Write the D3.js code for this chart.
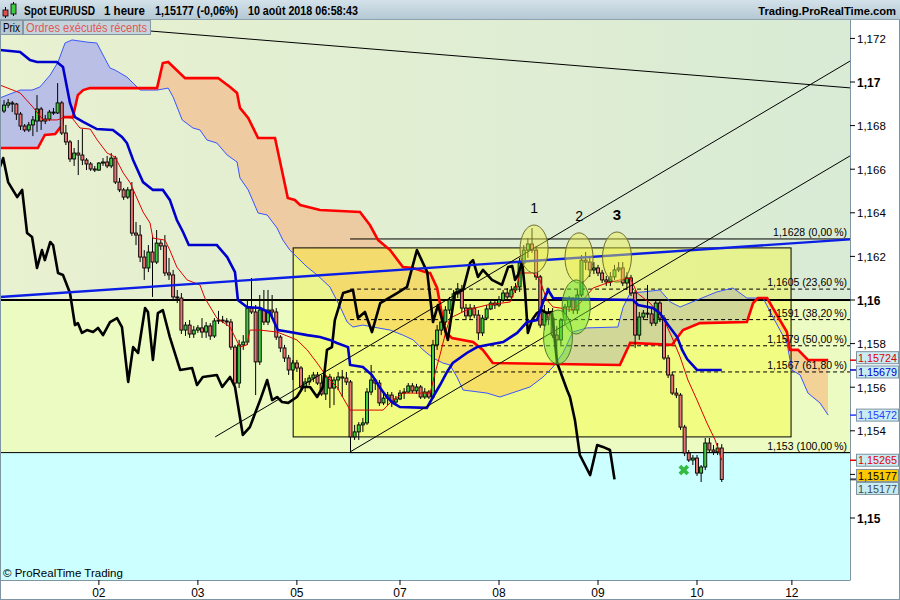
<!DOCTYPE html>
<html>
<head>
<meta charset="utf-8">
<script src="https://d3js.org/d3.v7.min.js"></script>
<style>
  body { margin: 0; background: #fff; }
  svg { display: block; font-family: "Liberation Sans", Arial, sans-serif; }
</style>
</head>
<body>
<script>
// EUR/USD 1h candles, bar index 0..174
var openP = [
  1.16867,1.16894,1.16904,1.16899,1.16853,1.16798,1.16780,1.16803,1.16821,1.16876,
  1.16821,1.16830,1.16862,1.16858,1.16904,1.16766,1.16725,1.16647,1.16674,1.16665,
  1.16642,1.16624,1.16601,1.16596,1.16628,1.16633,1.16615,1.16651,1.16541,1.16505,
  1.16472,1.16505,1.16307,1.16298,1.16197,1.16147,1.16220,1.16174,1.16261,1.16248,
  1.16124,1.16115,1.16014,1.16009,1.15862,1.15885,1.15844,1.15862,1.15872,1.15853,
  1.15881,1.15835,1.15904,1.15908,1.15904,1.15899,1.15784,1.15619,1.15794,1.15807,
  1.15963,1.15945,1.15716,1.15954,1.15899,1.15954,1.15945,1.15830,1.15780,1.15734,
  1.15679,1.15711,1.15688,1.15601,1.15624,1.15642,1.15656,1.15619,1.15569,1.15647,
  1.15596,1.15633,1.15647,1.15642,1.15624,1.15372,1.15395,1.15427,1.15436,1.15578,
  1.15633,1.15619,1.15528,1.15550,1.15564,1.15532,1.15546,1.15573,1.15578,1.15606,
  1.15583,1.15601,1.15555,1.15578,1.15555,1.15794,1.15862,1.15899,1.15954,1.16000,
  1.16028,1.16050,1.15963,1.15927,1.15963,1.15931,1.15849,1.15917,1.15959,1.15986,
  1.15977,1.16000,1.16032,1.16014,1.16046,1.16060,1.16170,1.16229,1.16257,1.16229,
  1.16106,1.15885,1.15945,1.15917,1.15839,1.15817,1.15908,1.15968,1.16000,1.15954,
  1.16023,1.16183,1.16174,1.16138,1.16147,1.16124,1.16092,1.16083,1.16106,1.16138,
  1.16147,1.16078,1.16101,1.16032,1.15839,1.15922,1.15940,1.15936,1.15894,1.15986,
  1.15917,1.15734,1.15656,1.15573,1.15564,1.15417,1.15298,1.15266,1.15275,1.15206,
  1.15234,1.15344,1.15312,1.15303,1.15321
];
var highP = [
  1.16917,1.16922,1.16913,1.16904,1.16862,1.16807,1.16817,1.16844,1.16940,1.16885,
  1.16849,1.16872,1.16881,1.16995,1.16913,1.16803,1.16734,1.16697,1.16734,1.16784,
  1.16651,1.16633,1.16615,1.16633,1.16651,1.16661,1.16674,1.16661,1.16560,1.16514,
  1.16518,1.16541,1.16358,1.16344,1.16229,1.16252,1.16294,1.16321,1.16275,1.16298,
  1.16193,1.16138,1.16046,1.16032,1.15899,1.15908,1.15881,1.15885,1.15917,1.15899,
  1.15894,1.15917,1.15950,1.15927,1.15917,1.15913,1.15794,1.15817,1.15839,1.16000,
  1.16101,1.15977,1.16023,1.16046,1.16046,1.16023,1.15963,1.15839,1.15794,1.15748,
  1.15725,1.15725,1.15697,1.15642,1.15656,1.15670,1.15670,1.15656,1.15656,1.15661,
  1.15647,1.15670,1.15679,1.15670,1.15633,1.15427,1.15440,1.15459,1.15596,1.15702,
  1.15642,1.15633,1.15578,1.15578,1.15578,1.15560,1.15587,1.15596,1.15619,1.15619,
  1.15615,1.15610,1.15596,1.15587,1.15817,1.15885,1.15917,1.15972,1.16014,1.16046,
  1.16078,1.16069,1.15982,1.15982,1.15977,1.15954,1.15931,1.15977,1.16000,1.16000,
  1.16018,1.16046,1.16055,1.16064,1.16078,1.16193,1.16252,1.16284,1.16330,1.16248,
  1.16115,1.15977,1.15963,1.15963,1.15881,1.15917,1.15982,1.16018,1.16014,1.16046,
  1.16206,1.16220,1.16193,1.16174,1.16161,1.16138,1.16110,1.16128,1.16161,1.16174,
  1.16174,1.16128,1.16115,1.16046,1.15945,1.15954,1.16069,1.15963,1.16000,1.16000,
  1.15931,1.15748,1.15670,1.15596,1.15573,1.15427,1.15312,1.15289,1.15289,1.15243,
  1.15367,1.15367,1.15335,1.15344,1.15339
];
var lowP = [
  1.16858,1.16881,1.16862,1.16826,1.16780,1.16771,1.16771,1.16752,1.16771,1.16780,
  1.16807,1.16821,1.16849,1.16853,1.16757,1.16711,1.16633,1.16615,1.16573,1.16619,
  1.16596,1.16592,1.16587,1.16592,1.16615,1.16605,1.16605,1.16532,1.16495,1.16459,
  1.16463,1.16294,1.16252,1.16174,1.16092,1.16128,1.16014,1.16165,1.16229,1.16110,
  1.16092,1.16000,1.15986,1.15844,1.15835,1.15826,1.15826,1.15849,1.15826,1.15826,
  1.15817,1.15826,1.15890,1.15894,1.15881,1.15771,1.15610,1.15596,1.15771,1.15794,
  1.15936,1.15564,1.15702,1.15885,1.15885,1.15917,1.15817,1.15761,1.15716,1.15656,
  1.15633,1.15670,1.15587,1.15578,1.15610,1.15624,1.15610,1.15560,1.15541,1.15505,
  1.15518,1.15587,1.15555,1.15610,1.15303,1.15358,1.15358,1.15395,1.15427,1.15564,
  1.15587,1.15514,1.15518,1.15518,1.15509,1.15523,1.15541,1.15546,1.15573,1.15573,
  1.15569,1.15546,1.15546,1.15546,1.15546,1.15771,1.15839,1.15885,1.15936,1.15991,
  1.16009,1.15945,1.15908,1.15908,1.15917,1.15817,1.15835,1.15908,1.15954,1.15959,
  1.15968,1.15991,1.16000,1.16005,1.16032,1.16037,1.16161,1.16193,1.16216,1.16092,
  1.15872,1.15862,1.15885,1.15826,1.15716,1.15794,1.15885,1.15945,1.15936,1.15936,
  1.16014,1.16138,1.16106,1.16119,1.16110,1.16078,1.16064,1.16064,1.16092,1.16128,
  1.16064,1.16046,1.16018,1.15780,1.15817,1.15908,1.15917,1.15881,1.15881,1.15899,
  1.15725,1.15642,1.15564,1.15550,1.15404,1.15284,1.15257,1.15243,1.15193,1.15165,
  1.15220,1.15298,1.15289,1.15289,1.15165
];
var closeP = [
  1.16894,1.16904,1.16899,1.16853,1.16798,1.16780,1.16803,1.16826,1.16876,1.16821,
  1.16830,1.16862,1.16858,1.16904,1.16766,1.16725,1.16647,1.16674,1.16665,1.16642,
  1.16624,1.16601,1.16596,1.16628,1.16633,1.16615,1.16651,1.16541,1.16505,1.16472,
  1.16505,1.16307,1.16298,1.16197,1.16147,1.16220,1.16174,1.16261,1.16248,1.16124,
  1.16115,1.16014,1.16009,1.15862,1.15885,1.15844,1.15862,1.15872,1.15853,1.15881,
  1.15835,1.15904,1.15908,1.15904,1.15899,1.15784,1.15619,1.15794,1.15807,1.15963,
  1.15945,1.15716,1.15954,1.15899,1.15954,1.15945,1.15830,1.15780,1.15734,1.15679,
  1.15711,1.15688,1.15601,1.15624,1.15642,1.15656,1.15619,1.15569,1.15647,1.15596,
  1.15633,1.15647,1.15642,1.15624,1.15372,1.15395,1.15427,1.15436,1.15578,1.15633,
  1.15619,1.15528,1.15550,1.15564,1.15532,1.15546,1.15573,1.15578,1.15606,1.15583,
  1.15601,1.15555,1.15578,1.15555,1.15794,1.15862,1.15899,1.15954,1.16000,1.16028,
  1.16050,1.15963,1.15927,1.15963,1.15931,1.15849,1.15917,1.15959,1.15986,1.15977,
  1.16000,1.16032,1.16014,1.16046,1.16060,1.16170,1.16229,1.16257,1.16229,1.16106,
  1.15885,1.15945,1.15917,1.15839,1.15817,1.15908,1.15968,1.16000,1.15954,1.16023,
  1.16183,1.16174,1.16138,1.16147,1.16124,1.16092,1.16083,1.16106,1.16138,1.16147,
  1.16078,1.16101,1.16032,1.15839,1.15922,1.15940,1.15936,1.15894,1.15986,1.15917,
  1.15734,1.15656,1.15573,1.15564,1.15417,1.15298,1.15266,1.15275,1.15206,1.15234,
  1.15344,1.15312,1.15303,1.15321,1.15177
];

// Ichimoku lines as [bar index, price]
var tenkan = [[-1,1.16986],[3.9,1.16950],[7.0,1.16885],[9.5,1.16826],[12.9,1.16826],[14.8,1.16839],[16.5,1.16835],[18.4,1.16789],[20.9,1.16784],[22.6,1.16734],[25.0,1.16674],[26.9,1.16656],[28.9,1.16583],[30.6,1.16537],[33.7,1.16404],[35.4,1.16353],[36.1,1.16284],[39.0,1.16275],[40.2,1.16229],[41.9,1.16151],[44.4,1.16092],[47.5,1.16069],[48.7,1.16009],[51.6,1.15917],[54.8,1.15876],[57.2,1.15784],[58.9,1.15794],[59.6,1.15862],[62.1,1.15862],[66.2,1.15853],[69.3,1.15830],[71.0,1.15817],[73.5,1.15771],[75.9,1.15711],[78.3,1.15647],[80.7,1.15601],[83.9,1.15495],[91.9,1.15495],[93.6,1.15528],[96.7,1.15573],[103.3,1.15573],[104.7,1.15679],[105.7,1.15748],[106.9,1.15839],[108.1,1.15917],[112.2,1.15954],[117.1,1.15977],[122.7,1.15991],[124.4,1.16069],[125.1,1.16124],[128.2,1.16124],[129.9,1.16092],[131.6,1.16000],[133.1,1.15968],[137.9,1.15954],[140.4,1.16000],[142.8,1.16055],[146.2,1.16078],[149.3,1.16092],[151.8,1.16101],[153.5,1.16032],[156.6,1.15986],[159.8,1.15917],[161.9,1.15830],[163.9,1.15739],[165.8,1.15633],[168.0,1.15541],[170.4,1.15436],[172.4,1.15358],[174,1.15265]];
var kijun = [[-1,1.17147],[3.9,1.17138],[6.3,1.17101],[8.0,1.17092],[12.8,1.17092],[14.3,1.17069],[16.0,1.16904],[17.2,1.16839],[19.2,1.16817],[22.5,1.16784],[26.4,1.16780],[28.6,1.16748],[29.8,1.16720],[31.3,1.16642],[33.7,1.16541],[36.1,1.16505],[38.5,1.16505],[40.2,1.16459],[41.9,1.16367],[43.4,1.16312],[44.8,1.16252],[51.6,1.16252],[54.1,1.16197],[56.0,1.16128],[56.7,1.16000],[58.9,1.15968],[62.1,1.15963],[64.5,1.15940],[66.4,1.15862],[69.3,1.15853],[73.5,1.15839],[76.6,1.15830],[79.0,1.15817],[80.7,1.15803],[83.4,1.15784],[83.9,1.15702],[87.0,1.15693],[89.2,1.15656],[91.2,1.15596],[92.8,1.15555],[94.3,1.15528],[96.0,1.15509],[102.5,1.15505],[104.0,1.15555],[105.7,1.15610],[107.4,1.15670],[108.8,1.15711],[112.2,1.15757],[114.7,1.15784],[117.1,1.15794],[121.0,1.15807],[124.4,1.15849],[126.8,1.15899],[129.2,1.15908],[130.7,1.15991],[131.9,1.16046],[133.1,1.16009],[137.9,1.16005],[152.5,1.16000],[153.7,1.15977],[157.3,1.15963],[159.0,1.15940],[161.0,1.15885],[163.2,1.15830],[164.4,1.15771],[165.6,1.15729],[168.0,1.15679],[174,1.15679]];
var spanA = [[-1,1.16697],[8.2,1.16697],[9.9,1.16757],[12.4,1.16761],[14.1,1.16803],[14.3,1.16839],[16.7,1.16839],[17.9,1.16940],[19.2,1.16963],[20.8,1.16972],[37.1,1.16972],[38.5,1.17087],[39.8,1.17092],[43.9,1.17018],[51.9,1.17018],[54.8,1.16977],[56.5,1.16950],[57.2,1.16881],[59.2,1.16835],[61.6,1.16743],[65.7,1.16743],[68.8,1.16468],[70.5,1.16459],[71.8,1.16436],[76.6,1.16413],[86.3,1.16404],[88.7,1.16344],[90.7,1.16275],[93.6,1.16229],[96.7,1.16151],[99.2,1.16147],[102.8,1.16124],[103.3,1.16124],[105.0,1.16055],[106.2,1.15931],[107.2,1.15849],[108.6,1.15826],[113.7,1.15807],[116.1,1.15771],[118.5,1.15711],[149.3,1.15702],[151.8,1.15803],[161.9,1.15794],[164.6,1.15862],[168.7,1.15894],[180.1,1.15899],[181.6,1.15986],[182.8,1.16009],[185.0,1.16009],[186.4,1.15963],[189.8,1.15853],[190.5,1.15771],[192.5,1.15771],[194.9,1.15725],[199.8,1.15724]];
var spanB = [[-1,1.16927],[3.9,1.16963],[6.8,1.16963],[8.7,1.16977],[11.2,1.17032],[13.1,1.17092],[14.8,1.17179],[16.5,1.17193],[20.1,1.17183],[22.5,1.17179],[24.0,1.17124],[25.7,1.17064],[26.9,1.17055],[29.8,1.17023],[31.3,1.16995],[33.0,1.16963],[37.1,1.16963],[39.8,1.16972],[41.0,1.16931],[43.2,1.16826],[45.8,1.16789],[47.5,1.16780],[49.2,1.16734],[51.6,1.16720],[54.1,1.16665],[56.5,1.16633],[57.2,1.16560],[59.2,1.16505],[61.6,1.16399],[63.8,1.16390],[66.2,1.16330],[67.6,1.16275],[69.3,1.16229],[71.0,1.16197],[73.5,1.16151],[75.9,1.16115],[79.0,1.16060],[81.5,1.15968],[83.2,1.15899],[84.6,1.15876],[87.0,1.15885],[89.5,1.15876],[93.6,1.15862],[96.7,1.15839],[99.2,1.15817],[101.6,1.15771],[104.0,1.15734],[106.4,1.15711],[108.1,1.15702],[109.8,1.15647],[111.3,1.15587],[117.1,1.15573],[120.2,1.15555],[127.5,1.15601],[130.7,1.15647],[133.1,1.15693],[135.5,1.15757],[137.9,1.15853],[141.3,1.15872],[148.8,1.15876],[150.1,1.15968],[151.8,1.16032],[154.9,1.16037],[159.0,1.16046],[161.5,1.15991],[163.9,1.15968],[168.0,1.16000],[172.8,1.16037],[176.7,1.16055],[178.4,1.16032],[180.1,1.16009],[184.0,1.16009],[186.4,1.15922],[189.8,1.15803],[191.0,1.15679],[193.0,1.15656],[194.9,1.15573],[197.8,1.15528],[199.8,1.15472]];
var chikou = [[-1,1.16610],[-0.2,1.16651],[1.0,1.16541],[3.2,1.16472],[4.4,1.16505],[5.6,1.16307],[6.8,1.16289],[8.0,1.16147],[9.2,1.16229],[9.9,1.16183],[11.2,1.16266],[11.9,1.16252],[13.1,1.16124],[14.3,1.16115],[16.0,1.16032],[17.2,1.15885],[17.9,1.15894],[18.9,1.15849],[20.1,1.15862],[21.6,1.15853],[22.8,1.15872],[24.0,1.15839],[25.7,1.15899],[27.4,1.15917],[28.6,1.15876],[30.1,1.15624],[31.3,1.15784],[32.5,1.15757],[34.2,1.15963],[34.9,1.15945],[36.1,1.15725],[37.3,1.15940],[38.5,1.15954],[40.2,1.15830],[42.7,1.15679],[45.6,1.15688],[46.8,1.15610],[48.2,1.15647],[51.6,1.15656],[52.9,1.15601],[54.8,1.15647],[56.0,1.15601],[57.9,1.15381],[59.6,1.15417],[62.1,1.15541],[63.8,1.15633],[65.0,1.15541],[66.2,1.15555],[67.4,1.15532],[68.9,1.15528],[71.0,1.15555],[72.5,1.15601],[74.2,1.15601],[75.9,1.15555],[77.3,1.15601],[78.3,1.15771],[79.5,1.15784],[80.2,1.15908],[82.2,1.16032],[84.6,1.16046],[85.8,1.15917],[87.5,1.15945],[89.2,1.15853],[91.2,1.15986],[95.3,1.16032],[97.7,1.16060],[100.1,1.16229],[102.6,1.16128],[104.0,1.15899],[105.2,1.15977],[107.6,1.15817],[109.3,1.16032],[111.3,1.16046],[113.0,1.16170],[113.7,1.16183],[114.9,1.16106],[116.1,1.16138],[118.3,1.16092],[120.7,1.16069],[122.2,1.16151],[123.2,1.16156],[123.9,1.16092],[124.6,1.16115],[125.6,1.16174],[126.3,1.16046],[127.0,1.15849],[128.0,1.15908],[129.2,1.15940],[130.4,1.15954],[131.6,1.15940],[132.8,1.15945],[134.1,1.15711],[136.5,1.15587],[137.2,1.15555],[138.4,1.15450],[139.6,1.15289],[142.1,1.15197],[143.8,1.15335],[145.2,1.15326],[146.9,1.15312],[148,1.15177]];

// drawn objects
var blueTrend = [[-0.97,1.16014],[205.1,1.16278]];
var downTrend = [[35.4,1.17234],[205.1,1.16973]];
var chanUpper = [[51.2,1.15372],[205.1,1.17096]];
var chanLower = [[83.9,1.15303],[205.1,1.16661]];
var zoneBox = {i0: 70.1, i1: 190.8, top: 1.16239, bottom: 1.15372};
var fibStart = 83.9;
var fibLevels = [1.1628, 1.1605, 1.1591, 1.1579, 1.1567, 1.153];
var fibPct = ["0,00", "23,60", "38,20", "50,00", "61,80", "100,00"];
var ellipses = [
  {i: 128.5, p: 1.16234, di: 3.4, dp: 0.00110, kind: "y", label: "1"},
  {i: 139.4, p: 1.16193, di: 3.4, dp: 0.00115, kind: "y", label: "2"},
  {i: 148.6, p: 1.16197, di: 3.5, dp: 0.00115, kind: "y", label: "3"},
  {i: 138.7, p: 1.15968, di: 3.4, dp: 0.00124, kind: "g", label: ""},
  {i: 134.3, p: 1.15830, di: 3.5, dp: 0.00124, kind: "g", label: ""}
];
var crossMark = [164.8, 1.1522];

var priceTicks = [1.15, 1.152, 1.154, 1.156, 1.158, 1.16, 1.162, 1.164, 1.166, 1.168, 1.17, 1.172];
var hiddenTick = 1.152; // its label sits under the last-price boxes
var dayTicks = [23, 47, 71, 96, 120, 144, 168, 191];
var dayLabels = ["02", "03", "05", "07", "08", "09", "10", "12"];
var lastVals = [1.15724, 1.15679, 1.15472, 1.15265, 1.15177, 1.15177];

var W = 900, H = 600, PR = 850, PT = 20, PB = 580;
var x = d3.scaleLinear().domain([-0.97, 205.09]).range([0, PR]);
var y = d3.scaleLinear().domain([1.15, 1.16]).range([518, 300]);
var comma = function (v) { return String(v).replace(".", ","); };

var svg = d3.select("body").append("svg").attr("width", W).attr("height", H);
var defs = svg.append("defs");
defs.append("clipPath").attr("id", "plotClip").append("rect")
  .attr("x", 0).attr("y", PT).attr("width", PR).attr("height", PB - PT);

var bgGrad = defs.append("linearGradient").attr("id", "bgTop");
bgGrad.append("stop").attr("offset", 0).attr("stop-color", "#e8f1d0");
bgGrad.append("stop").attr("offset", 1).attr("stop-color", "#d9ebd5");
var hdGrad = defs.append("linearGradient").attr("id", "hdr").attr("x2", 0).attr("y2", 1);
hdGrad.append("stop").attr("offset", 0).attr("stop-color", "#d3e2ea");
hdGrad.append("stop").attr("offset", 1).attr("stop-color", "#b3c7d3");

var plot = svg.append("g").attr("clip-path", "url(#plotClip)");

// background bands
plot.append("rect").attr("x", 0).attr("y", PT).attr("width", PR).attr("height", y(1.16) - PT).attr("fill", "url(#bgTop)");
plot.append("rect").attr("x", 0).attr("y", y(1.16)).attr("width", PR).attr("height", y(1.153) - y(1.16)).attr("fill", "#ebfbc2");
plot.append("rect").attr("x", 0).attr("y", y(1.153)).attr("width", PR).attr("height", PB - y(1.153)).attr("fill", "#ccffff");

// kumo
var fA = d3.scaleLinear().domain(spanA.map(function (d) { return d[0]; })).range(spanA.map(function (d) { return d[1]; })).clamp(true);
var fB = d3.scaleLinear().domain(spanB.map(function (d) { return d[0]; })).range(spanB.map(function (d) { return d[1]; })).clamp(true);
var grid = Array.from(new Set(spanA.map(function (d) { return d[0]; }).concat(spanB.map(function (d) { return d[0]; })))).sort(function (a, b) { return a - b; });
var kumo = grid.map(function (i) { return {i: i, a: fA(i), b: fB(i)}; });
var between = d3.area().x(function (d) { return x(d.i); }).y0(function (d) { return y(d.a); }).y1(function (d) { return y(d.b); });
defs.append("clipPath").attr("id", "belowA").append("path")
  .attr("d", d3.area().x(function (d) { return x(d.i); }).y0(PB).y1(function (d) { return y(d.a); })(kumo));
defs.append("clipPath").attr("id", "belowB").append("path")
  .attr("d", d3.area().x(function (d) { return x(d.i); }).y0(PB).y1(function (d) { return y(d.b); })(kumo));
plot.append("path").attr("d", between(kumo)).attr("clip-path", "url(#belowA)").attr("fill", "rgba(255,150,90,0.4)");
plot.append("path").attr("d", between(kumo)).attr("clip-path", "url(#belowB)").attr("fill", "rgba(130,130,255,0.45)");

// zone rectangle, over the cloud fill
plot.append("rect")
  .attr("x", x(zoneBox.i0)).attr("y", y(zoneBox.top))
  .attr("width", x(zoneBox.i1) - x(zoneBox.i0)).attr("height", y(zoneBox.bottom) - y(zoneBox.top))
  .attr("fill", "rgba(255,255,0,0.32)").attr("stroke", "#000").attr("stroke-width", 1);

var line = d3.line().x(function (d) { return x(d[0]); }).y(function (d) { return y(d[1]); });

// horizontal levels
plot.append("line").attr("x1", 0).attr("x2", PR).attr("y1", y(1.16)).attr("y2", y(1.16)).attr("stroke", "#000").attr("stroke-width", 2.2);
plot.append("line").attr("x1", 0).attr("x2", PR).attr("y1", y(1.153)).attr("y2", y(1.153)).attr("stroke", "#000").attr("stroke-width", 1);

// fibonacci
fibLevels.forEach(function (lv, k) {
  plot.append("line").attr("x1", x(fibStart)).attr("x2", PR).attr("y1", y(lv)).attr("y2", y(lv))
    .attr("stroke", "#000").attr("stroke-width", 1)
    .attr("stroke-dasharray", (k === 0 || k === fibLevels.length - 1) ? null : "4,3");
});

// cloud lines
plot.append("path").attr("d", line(spanB)).attr("fill", "none").attr("stroke", "#3a55ff").attr("stroke-width", 1);
plot.append("path").attr("d", line(spanA)).attr("fill", "none").attr("stroke", "#ff0000").attr("stroke-width", 2.6);

// candles
var bars = d3.range(openP.length);
var cg = plot.append("g");
cg.selectAll("line.w").data(bars).enter().append("line")
  .attr("x1", function (i) { return x(i); }).attr("x2", function (i) { return x(i); })
  .attr("y1", function (i) { return y(highP[i]); }).attr("y2", function (i) { return y(lowP[i]); })
  .attr("stroke", "#000").attr("stroke-width", 1);
cg.selectAll("rect").data(bars).enter().append("rect")
  .attr("x", function (i) { return x(i) - 1.5; }).attr("width", 3)
  .attr("y", function (i) { return y(Math.max(openP[i], closeP[i])); })
  .attr("height", function (i) { return Math.max(1, Math.abs(y(openP[i]) - y(closeP[i]))); })
  .attr("fill", function (i) { return closeP[i] >= openP[i] ? "#3fcc3f" : "#e87474"; })
  .attr("stroke", "#000").attr("stroke-width", 0.9);

// indicator lines
plot.append("path").attr("d", line(tenkan)).attr("fill", "none").attr("stroke", "#dd0000").attr("stroke-width", 1);
plot.append("path").attr("d", line(chikou)).attr("fill", "none").attr("stroke", "#000").attr("stroke-width", 2.6).attr("stroke-linejoin", "round");
plot.append("path").attr("d", line(kijun)).attr("fill", "none").attr("stroke", "#0000cc").attr("stroke-width", 2.6);

// trend lines
plot.append("path").attr("d", line(blueTrend)).attr("stroke", "#0a1ee6").attr("stroke-width", 2.4);
[downTrend, chanUpper, chanLower].forEach(function (t) {
  plot.append("path").attr("d", line(t)).attr("stroke", "#000").attr("stroke-width", 1);
});

// ellipses
ellipses.forEach(function (e) {
  var rx = x(e.i + e.di) - x(e.i), ry = y(e.p - e.dp) - y(e.p);
  plot.append("ellipse").attr("cx", x(e.i)).attr("cy", y(e.p)).attr("rx", rx).attr("ry", ry)
    .attr("fill", e.kind === "y" ? "rgba(240,240,70,0.45)" : "rgba(110,225,50,0.5)")
    .attr("stroke", e.kind === "y" ? "#6e6e30" : "#4e7a2a").attr("stroke-width", 1);
  if (e.label) {
    plot.append("text").attr("x", x(e.i)).attr("y", y(e.p) - ry - 12).attr("text-anchor", "middle")
      .attr("font-size", e.label === "3" ? 15 : 14).attr("font-weight", e.label === "3" ? "bold" : "normal")
      .text(e.label);
  }
});

// fib labels
fibLevels.forEach(function (lv, k) {
  plot.append("text").attr("x", PR - 3).attr("y", y(lv) - 3).attr("text-anchor", "end")
    .attr("font-size", 10.5).attr("fill", "#000")
    .text(comma(lv) + " (" + fibPct[k] + "\u2009%)");
});

// cross marker
plot.append("path").attr("d", d3.symbol(d3.symbolCross, 70)())
  .attr("transform", "translate(" + x(crossMark[0]) + "," + y(crossMark[1]) + ") rotate(45)")
  .attr("fill", "#33bb44");

plot.append("text").attr("x", 3).attr("y", PB - 3).attr("font-size", 11.5)
  .attr("font-family", "'Liberation Sans Narrow', 'Liberation Sans', sans-serif").text("\u00a9 ProRealTime Trading");

// frame
svg.append("line").attr("x1", PR + 0.5).attr("x2", PR + 0.5).attr("y1", PT).attr("y2", PB).attr("stroke", "#7f95a3");
svg.append("line").attr("x1", 0).attr("x2", PR + 0.5).attr("y1", PB + 0.5).attr("y2", PB + 0.5).attr("stroke", "#7f95a3");
svg.append("line").attr("x1", 0.5).attr("x2", 0.5).attr("y1", PT).attr("y2", H).attr("stroke", "#7f95a3");
svg.append("line").attr("x1", 0).attr("x2", W).attr("y1", H - 0.5).attr("y2", H - 0.5).attr("stroke", "#7f95a3");
svg.append("line").attr("x1", W - 0.5).attr("x2", W - 0.5).attr("y1", PT).attr("y2", H).attr("stroke", "#7f95a3");

// right price axis
var ax = svg.append("g");
priceTicks.forEach(function (t) {
  var big = Math.abs(t * 100 - Math.round(t * 100)) < 1e-6;
  ax.append("line").attr("x1", PR).attr("x2", PR + 5).attr("y1", y(t)).attr("y2", y(t)).attr("stroke", "#000");
  if (t === hiddenTick) return;
  ax.append("text").attr("x", PR + 7).attr("y", y(t) + 4.5).attr("font-size", big ? 12 : 11.5)
    .attr("font-weight", big ? "bold" : "normal").text(comma(+t.toFixed(3)));
});

// last value boxes
var boxText = ["#e00000", "#0000cc", "#2a3cff", "#e00000", "#000", "#3a4a55"];
var boxFill = ["#c9ecf3", "#c9ecf3", "#c9ecf3", "#c9ecf3", "#ffc800", "#c9ecf3"];
var boxNudge = [-2.5, 2, 0, 0, -4, 9];
lastVals.forEach(function (v, k) {
  var cy = y(v) + boxNudge[k];
  ax.append("line").attr("x1", PR).attr("x2", PR + 6).attr("y1", y(v)).attr("y2", y(v)).attr("stroke", boxText[k]).attr("stroke-width", 1.5);
  ax.append("rect").attr("x", PR + 6.5).attr("y", cy - 6).attr("width", 42).attr("height", 12)
    .attr("fill", boxFill[k]).attr("stroke", "#7d93a0");
  ax.append("text").attr("x", PR + 8).attr("y", cy + 4.2).attr("font-size", 11.5).attr("fill", boxText[k])
    .attr("textLength", 39).attr("lengthAdjust", "spacingAndGlyphs").text(comma(v));
});

// time axis
var tx = svg.append("g").attr("font-family", "'Liberation Sans Narrow', 'Liberation Sans', sans-serif");
dayTicks.forEach(function (t, k) {
  tx.append("line").attr("x1", x(t)).attr("x2", x(t)).attr("y1", PB).attr("y2", PB + 5).attr("stroke", "#000");
  tx.append("text").attr("x", x(t)).attr("y", PB + 17).attr("text-anchor", "middle").attr("font-size", 12).text(dayLabels[k]);
});

// header
svg.append("rect").attr("width", W).attr("height", PT).attr("fill", "url(#hdr)");
svg.append("line").attr("x1", 0).attr("x2", W).attr("y1", PT - 0.5).attr("y2", PT - 0.5).attr("stroke", "#8ea2ae");
svg.append("line").attr("x1", 5.5).attr("x2", 5.5).attr("y1", 7).attr("y2", 18).attr("stroke", "#000");
svg.append("rect").attr("x", 3).attr("y", 10).attr("width", 5).attr("height", 6).attr("fill", "#e05050").attr("stroke", "#000").attr("stroke-width", 0.8);
svg.append("line").attr("x1", 13.5).attr("x2", 13.5).attr("y1", 2).attr("y2", 16).attr("stroke", "#000");
svg.append("rect").attr("x", 11).attr("y", 4).attr("width", 5).attr("height", 10).attr("fill", "#3fcc3f").attr("stroke", "#000").attr("stroke-width", 0.8);
var hdr = svg.append("g").attr("font-size", 12).attr("font-weight", "bold");
var hdrItems = [["Spot EUR/USD", 24, 71], ["1 heure", 104, 41], ["1,15177 (-0,06%)", 155, 83], ["10 ao\u00fbt 2018 06:58:43", 248, 110]];
hdrItems.forEach(function (h) {
  hdr.append("text").attr("x", h[1]).attr("y", 15).attr("textLength", h[2]).attr("lengthAdjust", "spacingAndGlyphs").text(h[0]);
});
hdr.append("text").attr("x", W - 4).attr("y", 15).attr("text-anchor", "end").attr("font-size", 11.2)
  .text("Trading.ProRealTime.com");

// tabs
svg.append("rect").attr("x", 0.5).attr("y", PT + 0.5).attr("width", 22).attr("height", 14).attr("fill", "#b6c8d1").attr("stroke", "#8496a2");
svg.append("text").attr("x", 3).attr("y", PT + 12).attr("font-size", 12).attr("textLength", 17).attr("lengthAdjust", "spacingAndGlyphs").text("Prix");
svg.append("rect").attr("x", 23.5).attr("y", PT + 0.5).attr("width", 127).attr("height", 14).attr("fill", "#c4d4dc").attr("stroke", "#8496a2");
svg.append("text").attr("x", 26).attr("y", PT + 12).attr("font-size", 12).attr("fill", "#e25757")
  .attr("textLength", 121).attr("lengthAdjust", "spacingAndGlyphs").text("Ordres ex\u00e9cut\u00e9s r\u00e9cents");
</script>
</body>
</html>
